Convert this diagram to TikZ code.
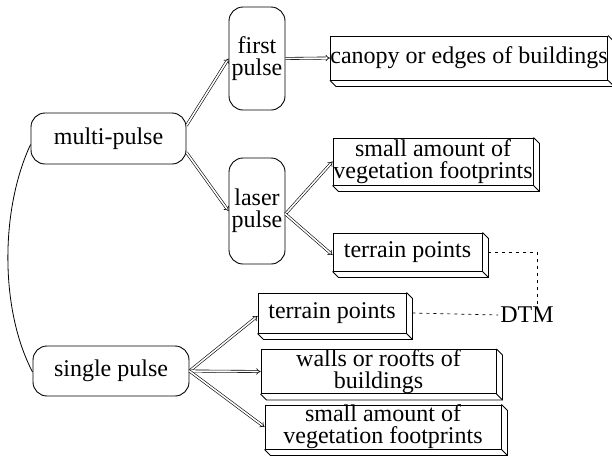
\documentclass[tikz,border=0pt]{standalone}
\usepackage{fontspec}
\setmainfont{Liberation Serif}
\usetikzlibrary{arrows.meta,calc}
\newcommand\extrude[1]{%
  \draw[line width=0.9pt] (#1.north east) -- ++(6,6) |- ($(#1.south west)+(6,6)$) -- (#1.south west);
  \draw[line width=0.9pt] (#1.south east) -- ++(6,6);}
\begin{document}
\begin{tikzpicture}[x=1pt,y=-1pt,
  txt/.style={font=\fontsize{24}{22}\selectfont, align=center, inner sep=0pt},
  rbox/.style={txt, draw, line width=0.9pt, rounded corners=14pt},
  flat/.style={txt, draw, line width=0.9pt, fill=white},
  arr/.style={double, double distance=1.6pt, line width=0.6pt, -{Implies}},
  dsh/.style={dash pattern=on 3pt off 4pt, line width=0.7pt}
]
\useasboundingbox (0,0) rectangle (612,456);
\node[rbox, minimum width=155pt, minimum height=51pt] (multi) at (108.5,138.5) {multi-pulse};
\node[rbox, minimum width=56pt, minimum height=103pt] (first) at (257,58.5) {first\\pulse};
\node[rbox, minimum width=56pt, minimum height=106pt] (laser) at (257,211) {laser\\pulse};
\node[rbox, minimum width=156pt, minimum height=50pt] (single) at (111,371) {single pulse};

\node[flat, minimum width=274pt, minimum height=44pt] (canopy) at (469,58) {canopy or edges of buildings};
\node[flat, minimum width=200pt, minimum height=47pt] (small1) at (433,161.5) {small amount of\\vegetation footprints};
\node[flat, minimum width=149pt, minimum height=38pt] (terrain1) at (407.5,252) {terrain points};
\node[flat, minimum width=148pt, minimum height=40pt] (terrain2) at (332,313) {terrain points};
\node[flat, minimum width=235pt, minimum height=43pt] (walls) at (378.5,371.5) {walls or roofts of\\buildings};
\node[flat, minimum width=236pt, minimum height=42pt] (small2) at (383,427) {small amount of\\vegetation footprints};
\node[txt] (dtm) at (527,315) {DTM};

\foreach \n in {canopy,small1,terrain1,terrain2,walls,small2} {\extrude{\n}}

\draw[arr] ([yshift=13pt]multi.east) -- (first.west);
\draw[arr] ([yshift=-14pt]multi.east) -- (laser.west);
\draw[arr] (first.east) -- (canopy.west);
\draw[arr] ([yshift=-3pt]laser.east) -- (small1.west);
\draw[arr] ([yshift=-3pt]laser.east) -- ([yshift=-3pt]terrain1.west);
\draw[arr] (single.east) -- ([yshift=-3pt]terrain2.west);
\draw[arr] (single.east) -- (walls.west);
\draw[arr] (single.east) -- (small2.west);

\draw[line width=0.8pt] ([yshift=-6pt]multi.west) .. controls (0,210) and (0,310) .. ([yshift=-1pt]single.west);

\draw[dsh] ([xshift=6pt]terrain1.east) -| ([xshift=10pt,yshift=2pt]dtm.north);
\draw[dsh] ([xshift=6pt]terrain2.east) -- ([xshift=-2pt]dtm.west);
\end{tikzpicture}
\end{document}
